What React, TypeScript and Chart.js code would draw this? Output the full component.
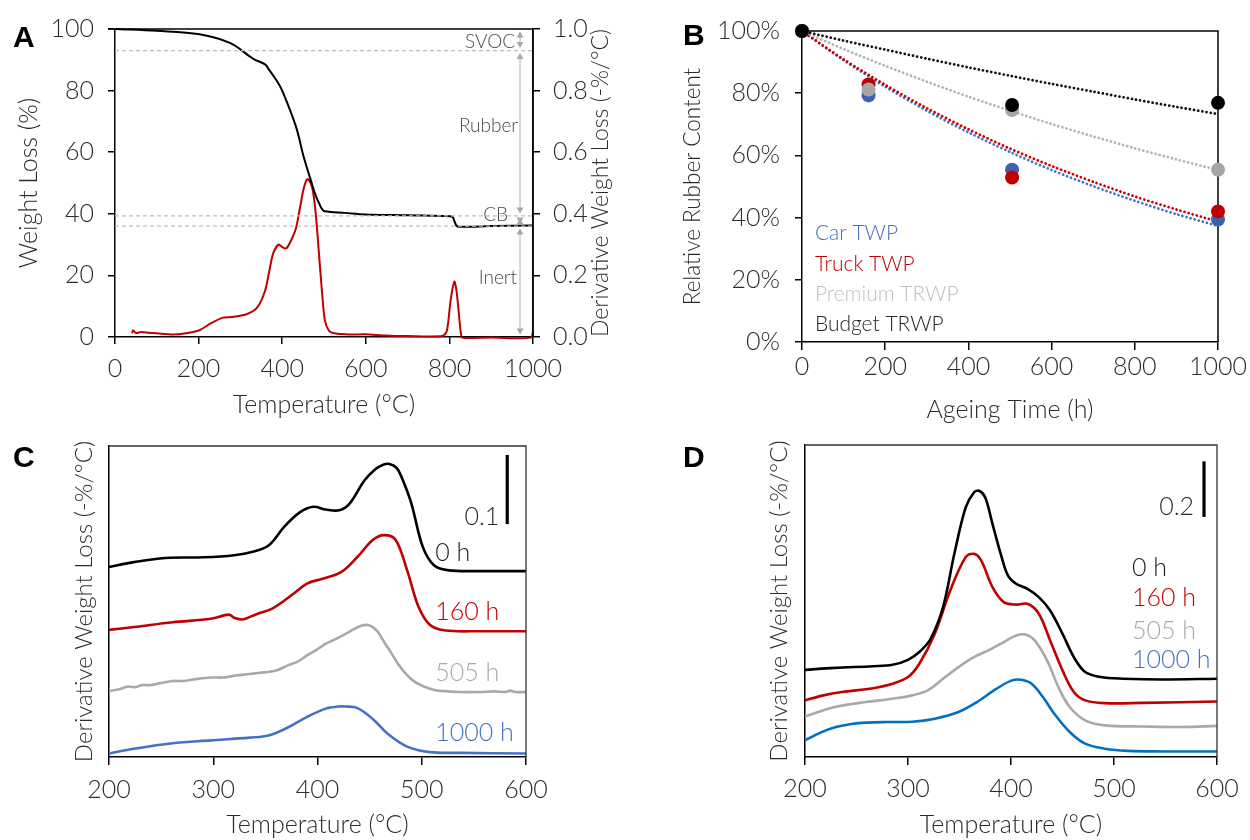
import React, { useEffect, useRef } from 'react';
import { Chart, registerables } from 'chart.js';

Chart.register(...registerables);

const FONT = 'Lato';
const TXT = '#2b2b2b';

// ---------- Panel A : TGA / DTG ----------
const tgaTemp = [0, 100, 202, 276, 331, 359, 368, 387, 400, 433, 451, 470, 480, 488, 495, 502, 550, 599, 700, 801, 808, 812, 818, 830, 900, 1000];
const tgaWeight = [100, 99.4, 98.3, 95.4, 90.3, 88.5, 86.9, 83.2, 80.0, 68.3, 58.7, 50.2, 46.0, 43.5, 41.6, 40.8, 40.3, 39.8, 39.5, 39.2, 38.9, 37.6, 36.0, 35.8, 36.0, 36.2];
const dtgTemp = [41, 43, 50, 63, 80, 100, 138, 170, 202, 230, 258, 280, 313, 340, 359, 370, 378, 391, 402, 410, 420, 433, 444, 451, 460, 468, 474, 481, 488, 495, 502, 512, 525, 560, 599, 645, 700, 783, 794, 803, 812, 817, 821, 829, 838, 900, 995, 1000];
const dtgRate = [0.012, 0.022, 0.013, 0.016, 0.014, 0.012, 0.008, 0.012, 0.022, 0.045, 0.063, 0.065, 0.073, 0.095, 0.15, 0.22, 0.27, 0.30, 0.29, 0.288, 0.31, 0.353, 0.43, 0.48, 0.513, 0.50, 0.47, 0.39, 0.27, 0.15, 0.055, 0.02, 0.012, 0.008, 0.009, 0.005, 0.003, 0.003, 0.02, 0.12, 0.18, 0.15, 0.10, 0.0, -0.003, -0.002, -0.002, 0.02];
const fractionBounds = [100, 93.0, 39.3, 36.0, 0];
const fractionNames = ['SVOC', 'Rubber', 'CB', 'Inert'];
const fractionLabelLevels = [95.8, 68.4, 39.6, 19.2];
const fractionArrowTemp = 969;

// ---------- Panel B : relative rubber content ----------
const ageingHours = [0, 160, 505, 1000];
const carTWP = [100, 79.3, 55.4, 39.4];
const truckTWP = [100, 82.8, 52.9, 42.0];
const premiumTRWP = [100, 81.2, 74.6, 55.4];
const budgetTRWP: (number | null)[] = [100, null, 76.2, 76.9];
const fitHours = [0, 100, 200, 300, 400, 500, 600, 700, 800, 900, 1000];
const carFit = [100, 90.6, 82.1, 74.4, 67.4, 61.1, 55.3, 50.1, 45.4, 41.1, 37.3];
const truckFit = [100, 90.9, 82.7, 75.2, 68.4, 62.2, 56.6, 51.5, 46.8, 42.6, 38.7];
const premiumFit = [100, 94.2, 88.8, 83.7, 78.9, 74.4, 70.1, 66.1, 62.3, 58.7, 55.3];
const budgetFit = [100, 96.9, 94.0, 91.1, 88.3, 85.6, 83.0, 80.5, 78.0, 75.6, 73.3];
const seriesNames = ['Car TWP', 'Truck TWP', 'Premium TRWP', 'Budget TRWP'];

// ---------- Panel C : DTG of car TWP (offset curves) ----------
const cTemp0 = [200, 224, 254, 291, 320, 338, 353, 368, 383, 396, 408, 421, 431, 445, 456, 463, 469, 476, 482, 490, 501, 512, 526, 556, 600];
const cDtg0 = [0.275, 0.282, 0.288, 0.289, 0.292, 0.297, 0.306, 0.333, 0.354, 0.362, 0.358, 0.357, 0.367, 0.400, 0.417, 0.423, 0.424, 0.418, 0.400, 0.367, 0.304, 0.277, 0.270, 0.269, 0.269];
const cTemp160 = [200, 224, 261, 298, 315, 320, 327, 331, 342, 357, 375, 390, 405, 423, 438, 453, 464, 475, 486, 497, 508, 523, 556, 600];
const cDtg160 = [0.184, 0.188, 0.195, 0.200, 0.206, 0.2016, 0.199, 0.200, 0.207, 0.215, 0.234, 0.251, 0.258, 0.268, 0.289, 0.314, 0.321, 0.314, 0.270, 0.217, 0.191, 0.183, 0.182, 0.182];
const cTemp505 = [200, 210, 218, 224, 232, 240, 250, 261, 272, 285, 298, 310, 322, 335, 345, 353, 362, 372, 381, 390, 399, 408, 418, 427, 435, 442, 448, 453, 458, 464, 471, 478, 485, 493, 502, 512, 525, 538, 555, 570, 580, 585, 590, 600];
const cDtg505 = [0.0955, 0.098, 0.102, 0.101, 0.104, 0.104, 0.107, 0.110, 0.110, 0.113, 0.115, 0.115, 0.118, 0.120, 0.122, 0.123, 0.126, 0.133, 0.138, 0.147, 0.155, 0.164, 0.171, 0.178, 0.185, 0.190, 0.191, 0.188, 0.181, 0.166, 0.150, 0.133, 0.120, 0.109, 0.102, 0.097, 0.095, 0.094, 0.094, 0.095, 0.094, 0.096, 0.094, 0.094];
const cTemp1000 = [200, 224, 261, 298, 335, 353, 372, 390, 408, 420, 427, 438, 453, 467, 486, 508, 538, 600];
const cDtg1000 = [0.005, 0.012, 0.020, 0.024, 0.028, 0.031, 0.043, 0.058, 0.070, 0.073, 0.073, 0.071, 0.055, 0.034, 0.015, 0.007, 0.006, 0.005];
const cLabelLevels = [0.295, 0.210, 0.1216, 0.0347];

// ---------- Panel D : DTG of truck TWP (offset curves) ----------
const dTemp0 = [200, 229, 266, 285, 300, 311, 322, 334, 345, 356, 364, 369, 375, 382, 390, 397, 405, 416, 427, 438, 450, 461, 472, 487, 509, 547, 600];
const dDtg0 = [0.314, 0.321, 0.327, 0.332, 0.350, 0.378, 0.426, 0.540, 0.732, 0.899, 0.953, 0.959, 0.935, 0.840, 0.732, 0.654, 0.624, 0.606, 0.576, 0.528, 0.444, 0.360, 0.306, 0.288, 0.282, 0.279, 0.282];
const dTemp160 = [200, 218, 236, 266, 285, 300, 311, 326, 341, 356, 364, 371, 382, 393, 405, 416, 427, 438, 450, 461, 472, 491, 528, 600];
const dDtg160 = [0.204, 0.222, 0.234, 0.248, 0.264, 0.288, 0.336, 0.444, 0.600, 0.720, 0.732, 0.708, 0.612, 0.558, 0.549, 0.552, 0.516, 0.420, 0.312, 0.234, 0.204, 0.194, 0.195, 0.200];
const dTemp505 = [200, 229, 259, 285, 304, 319, 334, 349, 364, 378, 393, 405, 414, 423, 435, 446, 457, 472, 491, 528, 566, 600];
const dDtg505 = [0.146, 0.180, 0.198, 0.210, 0.222, 0.240, 0.282, 0.324, 0.360, 0.384, 0.414, 0.438, 0.441, 0.420, 0.348, 0.252, 0.180, 0.132, 0.114, 0.110, 0.108, 0.112];
const dTemp1000 = [200, 215, 230, 245, 260, 280, 304, 326, 349, 367, 386, 401, 410, 420, 431, 442, 457, 472, 491, 513, 547, 600];
const dDtg1000 = [0.060, 0.088, 0.108, 0.119, 0.124, 0.126, 0.127, 0.138, 0.162, 0.198, 0.246, 0.276, 0.278, 0.264, 0.216, 0.156, 0.090, 0.048, 0.030, 0.022, 0.020, 0.020];
const dLabelLevels = [0.681, 0.573, 0.454, 0.349];

const ageLabels = ['0 h', '160 h', '505 h', '1000 h'];

// ---------- helpers ----------
type Pt = { x: number; y: number };
const pts = (xs: number[], ys: (number | null)[]): Pt[] =>
  xs.map((x, i) => ({ x, y: ys[i] as number })).filter((p) => p.y !== null && p.y !== undefined);

const tickFont = { family: FONT, size: 25, weight: 300 as any };
const titleFont = { family: FONT, size: 25, weight: 300 as any };

function curve(data: Pt[], color: string, width: number, extra: any = {}) {
  return {
    data,
    borderColor: color,
    backgroundColor: color,
    borderWidth: width,
    pointRadius: 0,
    pointHoverRadius: 0,
    tension: 0.35,
    fill: false,
    clip: false,
    ...extra,
  };
}

function xAxis(min: number, max: number, step: number, height: number, tickLen: number, tickPad: number, title: string, titlePad: number) {
  return {
    type: 'linear',
    position: 'bottom',
    min,
    max,
    ticks: { stepSize: step, font: tickFont, color: TXT, padding: tickPad, maxRotation: 0, autoSkip: false, callback: (v: any) => String(v) },
    grid: { drawOnChartArea: false, drawTicks: true, tickLength: tickLen, color: '#000', lineWidth: 1.5 },
    border: { display: true, color: '#000', width: 1.5 },
    title: { display: true, text: title, font: titleFont, color: TXT, padding: { top: 0, bottom: titlePad } },
    afterFit: (s: any) => { s.height = height; },
  };
}

function letter(ctx: CanvasRenderingContext2D, txt: string, x: number, y: number) {
  ctx.save();
  ctx.font = 'bold 30px "Liberation Sans", Arial, sans-serif';
  ctx.fillStyle = '#000';
  ctx.textAlign = 'left';
  ctx.textBaseline = 'alphabetic';
  ctx.fillText(txt, x, y);
  ctx.restore();
}

function frame(ctx: CanvasRenderingContext2D, ca: any, color: string, w: number, extendLeft = 0) {
  ctx.save();
  ctx.strokeStyle = color;
  ctx.lineWidth = w;
  ctx.beginPath();
  ctx.moveTo(ca.left - extendLeft, ca.top);
  ctx.lineTo(ca.right, ca.top);
  ctx.lineTo(ca.right, ca.bottom);
  ctx.stroke();
  ctx.restore();
}

// ---------- configs ----------
function configA(): any {
  return {
    type: 'line',
    data: {
      datasets: [
        ...fractionBounds.slice(1, 4).map((v) =>
          curve([{ x: 0, y: v }, { x: 1000, y: v }], '#BEBEBE', 1.3, { borderDash: [4, 3], yAxisID: 'y', tension: 0 })
        ),
        curve(pts(tgaTemp, tgaWeight), '#000000', 2, { yAxisID: 'y' }),
        curve(pts(dtgTemp, dtgRate), '#C00000', 2, { yAxisID: 'y1', tension: 0.25 }),
      ],
    },
    options: {
      responsive: false,
      animation: false,
      devicePixelRatio: 1,
      layout: { padding: { top: 24, left: 0, right: 0, bottom: 0 } },
      plugins: { legend: { display: false }, tooltip: { enabled: false } },
      scales: {
        x: xAxis(0, 1000, 200, 83, 7, 10, 'Temperature (°C)', 0),
        y: {
          type: 'linear', position: 'left', min: 0, max: 100,
          ticks: { stepSize: 20, font: tickFont, color: TXT, padding: 14, callback: (v: any) => String(v) },
          grid: { drawOnChartArea: false, tickLength: 7, color: '#000', lineWidth: 1.5 },
          border: { display: true, color: '#000', width: 1.5 },
          title: { display: true, text: 'Weight Loss (%)', font: titleFont, color: TXT, padding: { top: 14, bottom: 0 } },
          afterFit: (s: any) => { s.width = 115; },
        },
        y1: {
          type: 'linear', position: 'right', min: 0, max: 1,
          ticks: { stepSize: 0.2, font: tickFont, color: TXT, padding: 13, callback: (v: any) => Number(v).toFixed(1) },
          grid: { drawOnChartArea: false, tickLength: 7, color: '#000', lineWidth: 1.5 },
          border: { display: true, color: '#000', width: 1.5 },
          afterFit: (s: any) => { s.width = 92; },
        },
      },
    },
    plugins: [
      {
        id: 'annotA',
        afterDraw(chart: any) {
          const { ctx, chartArea: ca, scales } = chart;
          const x = scales.x, y = scales.y;
          frame(ctx, ca, '#000', 1.5, 7);
          ctx.save();
          const ax = x.getPixelForValue(fractionArrowTemp);
          for (let i = 0; i < fractionNames.length; i++) {
            const y1 = y.getPixelForValue(fractionBounds[i]) + 2.5;
            const y2 = y.getPixelForValue(fractionBounds[i + 1]) - 2.5;
            ctx.strokeStyle = '#CACACA';
            ctx.lineWidth = 1.5;
            ctx.beginPath();
            ctx.moveTo(ax, y1 + 4);
            ctx.lineTo(ax, y2 - 4);
            ctx.stroke();
            ctx.fillStyle = '#A8A8A8';
            ctx.beginPath();
            ctx.moveTo(ax, y1); ctx.lineTo(ax - 3.5, y1 + 6); ctx.lineTo(ax + 3.5, y1 + 6); ctx.closePath(); ctx.fill();
            ctx.beginPath();
            ctx.moveTo(ax, y2); ctx.lineTo(ax - 3.5, y2 - 6); ctx.lineTo(ax + 3.5, y2 - 6); ctx.closePath(); ctx.fill();
          }
          const offs = [-5, -2, -12, -3];
          ctx.font = `300 19px ${FONT}`;
          ctx.fillStyle = '#4a4a4a';
          ctx.textAlign = 'right';
          ctx.textBaseline = 'middle';
          fractionNames.forEach((n, i) => ctx.fillText(n, ax + offs[i], y.getPixelForValue(fractionLabelLevels[i])));
          // right-hand axis title, reading bottom to top
          ctx.save();
          ctx.translate(601, (ca.top + ca.bottom) / 2);
          ctx.rotate(-Math.PI / 2);
          ctx.font = `300 23px ${FONT}`;
          ctx.fillStyle = TXT;
          ctx.textAlign = 'center';
          ctx.textBaseline = 'middle';
          ctx.fillText('Derivative Weight Loss (-%/°C)', 0, 0);
          ctx.restore();
          ctx.restore();
          letter(ctx, 'A', 13, 47);
        },
      },
    ],
  };
}

function configB(): any {
  const colorsPt = ['#3A62B0', '#C00000', '#A6A6A6', '#000000'];
  const colorsFit = ['#4472C4', '#D00000', '#B4B4B4', '#111111'];
  const values = [carTWP, truckTWP, premiumTRWP, budgetTRWP];
  const fits = [carFit, truckFit, premiumFit, budgetFit];
  const pointOrder = [4, 3, 2, 1];
  const fitOrder = [8, 7, 6, 5];
  const datasets: any[] = [];
  values.forEach((v, i) => {
    datasets.push({
      label: seriesNames[i],
      data: pts(ageingHours, v),
      showLine: false,
      pointRadius: 7,
      pointHoverRadius: 7,
      pointBackgroundColor: colorsPt[i],
      pointBorderColor: colorsPt[i],
      pointBorderWidth: 0,
      clip: false,
      order: pointOrder[i],
    });
    datasets.push(curve(pts(fitHours, fits[i]), colorsFit[i], 2.8, {
      label: seriesNames[i] + ' fit',
      borderDash: [0.01, 4.2],
      borderCapStyle: 'round',
      tension: 0.3,
      order: fitOrder[i],
    }));
  });
  return {
    type: 'line',
    data: { datasets },
    options: {
      responsive: false,
      animation: false,
      devicePixelRatio: 1,
      layout: { padding: { top: 31, left: 0, right: 32, bottom: 0 } },
      plugins: { legend: { display: false }, tooltip: { enabled: false } },
      scales: {
        x: xAxis(0, 1000, 200, 88, 8, 2, 'Ageing Time (h)', 5),
        y: {
          type: 'linear', position: 'left', min: 0, max: 100,
          ticks: { stepSize: 20, font: tickFont, color: TXT, padding: 15, callback: (v: any) => v + '%' },
          grid: { drawOnChartArea: false, tickLength: 7, color: '#000', lineWidth: 1.5 },
          border: { display: true, color: '#000', width: 1.5 },
          title: { display: true, text: 'Relative Rubber Content', font: { family: FONT, size: 22.5, weight: 300 as any }, color: TXT, padding: { top: 54.5, bottom: 0 } },
          afterFit: (s: any) => { s.width = 177; },
        },
      },
    },
    plugins: [
      {
        id: 'annotB',
        beforeDatasetsDraw(chart: any) {
          frame(chart.ctx, chart.chartArea, '#000', 1.5);
        },
        afterDraw(chart: any) {
          const { ctx, scales } = chart;
          const legendColors = ['#4472C4', '#C00000', '#BFBFBF', '#262626'];
          const legendLevels = [35.0, 25.1, 15.4, 5.8];
          ctx.save();
          ctx.font = `300 21px ${FONT}`;
          ctx.textAlign = 'left';
          ctx.textBaseline = 'middle';
          seriesNames.forEach((n, i) => {
            ctx.fillStyle = legendColors[i];
            ctx.fillText(n, scales.x.getPixelForValue(31), scales.y.getPixelForValue(legendLevels[i]));
          });
          ctx.restore();
          letter(ctx, 'B', 58, 45);
        },
      },
    ],
  };
}

function configDTG(opts: {
  series: { t: number[]; v: number[]; color: string }[];
  labelColors: string[];
  labelLevels: number[];
  labelTemp: number;
  yMax: number;
  bar: { temp: number; from: number; to: number; text: string; textLevel: number; textGap: number };
  yWidth: number;
  padRight: number;
  padTop: number;
  yTitlePad: number;
  xTickPad: number;
  letterText: string;
  letterX: number;
}): any {
  return {
    type: 'line',
    data: {
      datasets: opts.series.map((s) => curve(pts(s.t, s.v), s.color, 2.6)),
    },
    options: {
      responsive: false,
      animation: false,
      devicePixelRatio: 1,
      layout: { padding: { top: opts.padTop, left: 0, right: opts.padRight, bottom: 0 } },
      plugins: { legend: { display: false }, tooltip: { enabled: false } },
      scales: {
        x: xAxis(200, 600, 100, 83, 8, opts.xTickPad, 'Temperature (°C)', 0),
        y: {
          type: 'linear', position: 'left', min: 0, max: opts.yMax,
          ticks: { display: false },
          grid: { display: false, drawTicks: false },
          border: { display: true, color: '#000', width: 1.5 },
          title: { display: true, text: 'Derivative Weight Loss (-%/°C)', font: { family: FONT, size: 24, weight: 300 as any }, color: TXT, padding: { top: opts.yTitlePad, bottom: 0 } },
          afterFit: (s: any) => { s.width = opts.yWidth; },
        },
      },
    },
    plugins: [
      {
        id: 'annotDTG',
        afterDraw(chart: any) {
          const { ctx, chartArea, scales } = chart;
          const x = scales.x, y = scales.y;
          frame(ctx, chartArea, '#333', 1.3);
          ctx.save();
          const bx = x.getPixelForValue(opts.bar.temp);
          ctx.strokeStyle = '#000';
          ctx.lineWidth = 3.2;
          ctx.beginPath();
          ctx.moveTo(bx, y.getPixelForValue(opts.bar.from));
          ctx.lineTo(bx, y.getPixelForValue(opts.bar.to));
          ctx.stroke();
          ctx.font = `300 25px ${FONT}`;
          ctx.fillStyle = TXT;
          ctx.textAlign = 'right';
          ctx.textBaseline = 'middle';
          ctx.fillText(opts.bar.text, bx - opts.bar.textGap, y.getPixelForValue(opts.bar.textLevel));
          ctx.textAlign = 'left';
          ageLabels.forEach((t, i) => {
            ctx.fillStyle = opts.labelColors[i];
            ctx.fillText(t, x.getPixelForValue(opts.labelTemp), y.getPixelForValue(opts.labelLevels[i]));
          });
          ctx.restore();
          letter(ctx, opts.letterText, opts.letterX, 47);
        },
      },
    ],
  };
}

function configC(): any {
  return configDTG({
    series: [
      { t: cTemp0, v: cDtg0, color: '#000000' },
      { t: cTemp160, v: cDtg160, color: '#C00000' },
      { t: cTemp505, v: cDtg505, color: '#A9A9A9' },
      { t: cTemp1000, v: cDtg1000, color: '#4472C4' },
    ],
    labelColors: ['#1e1e1e', '#C00000', '#A9A9A9', '#4472C4'],
    labelLevels: cLabelLevels,
    labelTemp: 513,
    yMax: 0.45,
    bar: { temp: 582, from: 0.337, to: 0.437, text: '0.1', textLevel: 0.347, textGap: 8 },
    yWidth: 109,
    padRight: 99,
    padTop: 26,
    yTitlePad: 69.6,
    xTickPad: 10,
    letterText: 'C',
    letterX: 13,
  });
}

function configD(): any {
  return configDTG({
    series: [
      { t: dTemp0, v: dDtg0, color: '#000000' },
      { t: dTemp160, v: dDtg160, color: '#C00000' },
      { t: dTemp505, v: dDtg505, color: '#A9A9A9' },
      { t: dTemp1000, v: dDtg1000, color: '#0070C0' },
    ],
    labelColors: ['#1e1e1e', '#C00000', '#A9A9A9', '#4472C4'],
    labelLevels: dLabelLevels,
    labelTemp: 517.5,
    yMax: 1.124,
    bar: { temp: 587.4, from: 0.865, to: 1.065, text: '0.2', textLevel: 0.90, textGap: 10 },
    yWidth: 180,
    padRight: 33,
    padTop: 25,
    yTitlePad: 139.6,
    xTickPad: 9,
    letterText: 'D',
    letterX: 58,
  });
}

function Panel(props: { left: number; top: number; width: number; height: number; make: () => any }) {
  const ref = useRef<HTMLCanvasElement | null>(null);
  useEffect(() => {
    if (!ref.current) return;
    const chart = new Chart(ref.current, props.make());
    return () => chart.destroy();
  }, []);
  return (
    <canvas
      ref={ref}
      width={props.width}
      height={props.height}
      style={{ position: 'absolute', left: props.left, top: props.top, width: props.width, height: props.height, display: 'block' }}
    />
  );
}

export default function App() {
  return (
    <div style={{ position: 'absolute', left: 0, top: 0, width: 1250, height: 840, background: '#ffffff', overflow: 'hidden' }}>
      <Panel left={0} top={0} width={625} height={420} make={configA} />
      <Panel left={625} top={0} width={625} height={430} make={configB} />
      <Panel left={0} top={420} width={625} height={420} make={configC} />
      <Panel left={625} top={420} width={625} height={420} make={configD} />
    </div>
  );
}
